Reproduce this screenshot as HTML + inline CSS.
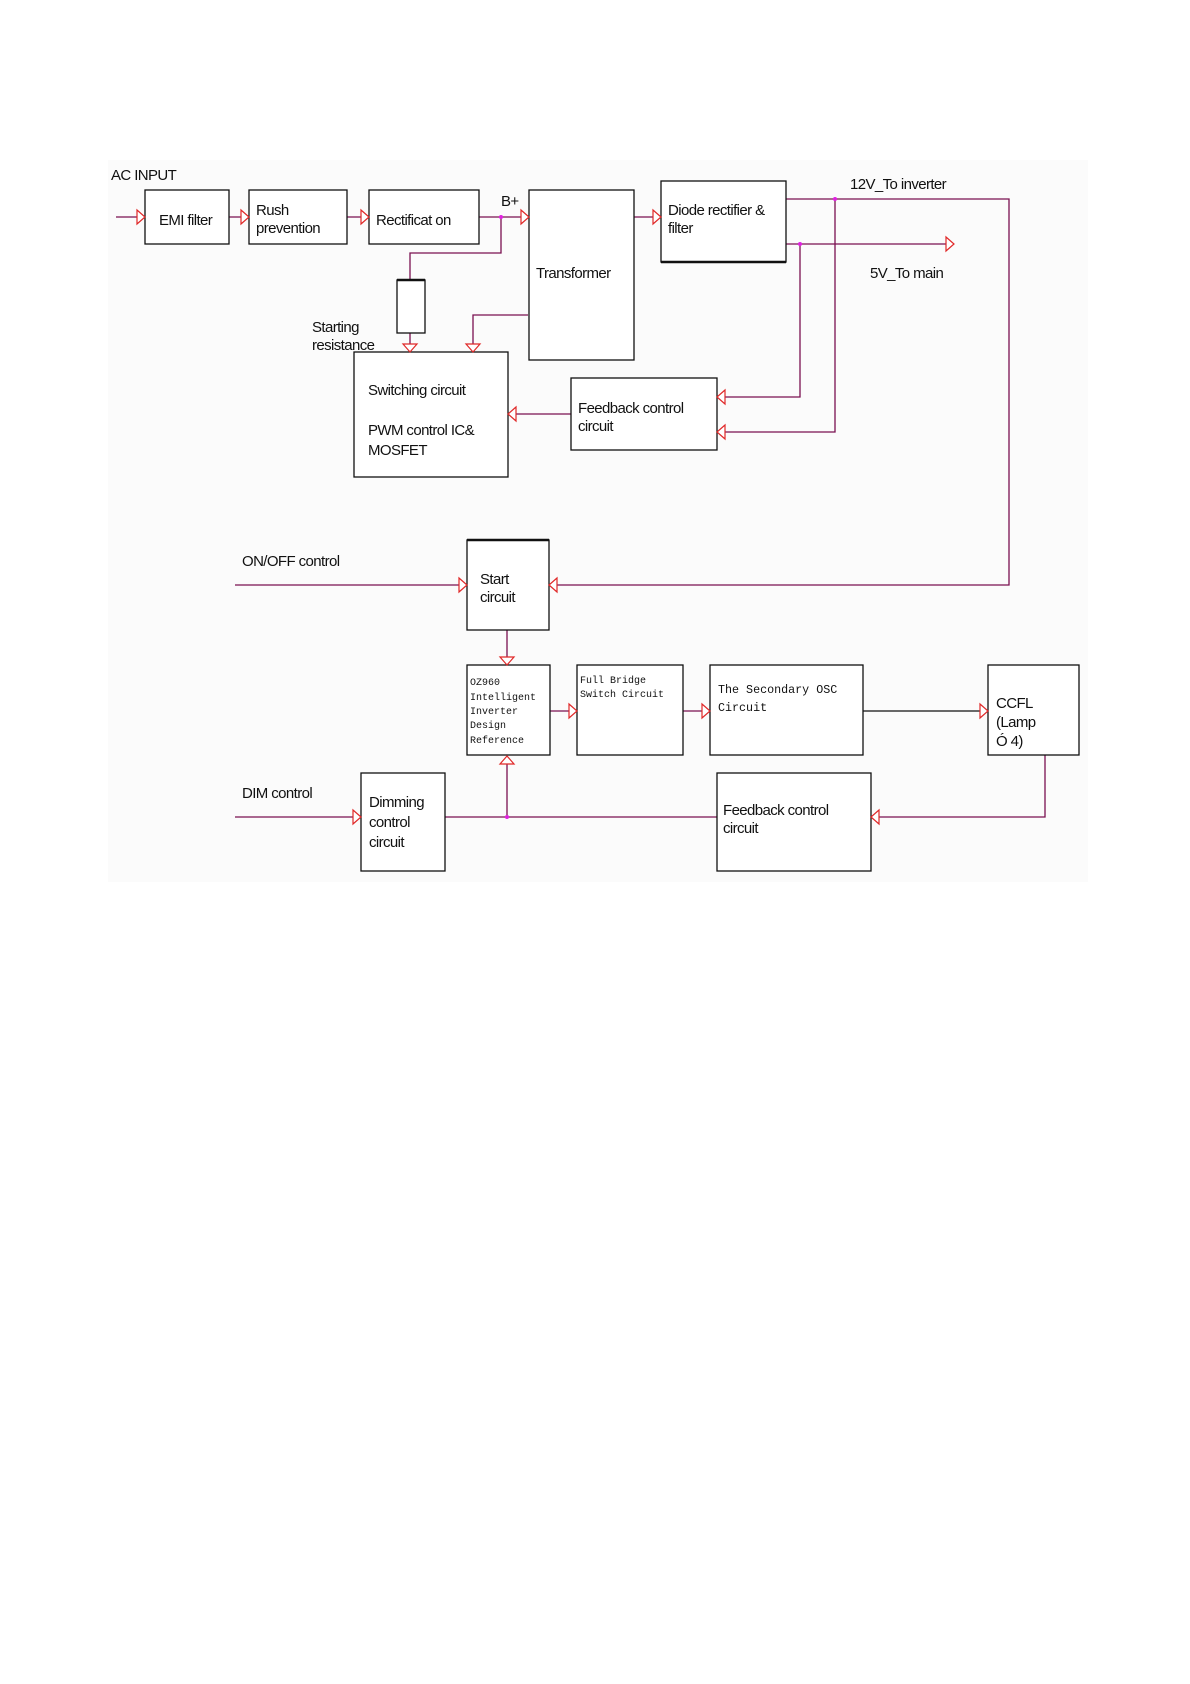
<!DOCTYPE html>
<html><head><meta charset="utf-8"><style>
html,body{margin:0;padding:0;background:#fff;}
svg{display:block;}
text{font-family:"Liberation Sans",sans-serif;font-size:15px;fill:#111;letter-spacing:-0.6px;}
.m{font-family:"Liberation Mono",monospace;font-size:10px;letter-spacing:0;}
.m2{font-family:"Liberation Mono",monospace;font-size:11.7px;letter-spacing:0;}
.b{fill:#fff;stroke:#111;stroke-width:1.3;}
.l{fill:none;stroke:#7a1050;stroke-width:1.3;}
.k{fill:none;stroke:#111;stroke-width:1.3;}
.a{fill:#fff;stroke:#e02828;stroke-width:1.2;}
.d{fill:#e020e0;}
</style></head><body>
<svg width="1190" height="1684" viewBox="0 0 1190 1684" xmlns="http://www.w3.org/2000/svg">
<rect x="108" y="160" width="980" height="722" fill="#fbfbfb"/>
<!-- top row lines -->
<polyline class="l" points="116,217 145,217"/>
<polyline class="l" points="229,217 249,217"/>
<polyline class="l" points="347,217 369,217"/>
<polyline class="l" points="479,217 529,217"/>
<polyline class="l" points="501,217 501,253 410,253 410,280"/>
<polyline class="l" points="410,333 410,352"/>
<polyline class="l" points="528,315 473,315 473,352"/>
<polyline class="l" points="634,217 661,217"/>
<polyline class="l" points="786,199 1009,199 1009,585 549,585"/>
<polyline class="l" points="786,244 954,244"/>
<polyline class="l" points="835,199 835,432 717,432"/>
<polyline class="l" points="800,244 800,397 717,397"/>
<polyline class="l" points="571,414 508,414"/>
<!-- bottom lines -->
<polyline class="l" points="235,585 467,585"/>
<polyline class="l" points="507,630 507,665"/>
<polyline class="l" points="550,711 577,711"/>
<polyline class="l" points="683,711 710,711"/>
<polyline class="k" points="863,711 988,711"/>
<polyline class="l" points="1045,755 1045,817 871,817"/>
<polyline class="l" points="235,817 361,817"/>
<polyline class="l" points="445,817 717,817"/>
<polyline class="l" points="507,817 507,756"/>
<!-- boxes -->
<rect class="b" x="145" y="190" width="84" height="54"/>
<rect class="b" x="249" y="190" width="98" height="54"/>
<rect class="b" x="369" y="190" width="110" height="54"/>
<rect class="b" x="529" y="190" width="105" height="170"/>
<rect class="b" x="661" y="181" width="125" height="81"/>
<line x1="661" y1="262" x2="786" y2="262" stroke="#111" stroke-width="2.5"/>
<rect class="b" x="397" y="280" width="28" height="53"/>
<line x1="397" y1="280" x2="425" y2="280" stroke="#111" stroke-width="2.5"/>
<rect class="b" x="354" y="352" width="154" height="125"/>
<rect class="b" x="571" y="378" width="146" height="72"/>
<rect class="b" x="467" y="540" width="82" height="90"/>
<line x1="467" y1="540" x2="549" y2="540" stroke="#111" stroke-width="2.5"/>
<rect class="b" x="467" y="665" width="83" height="90"/>
<rect class="b" x="577" y="665" width="106" height="90"/>
<rect class="b" x="710" y="665" width="153" height="90"/>
<rect class="b" x="988" y="665" width="91" height="90"/>
<rect class="b" x="717" y="773" width="154" height="98"/>
<rect class="b" x="361" y="773" width="84" height="98"/>
<!-- arrows right -->
<g class="a">
<path d="M137,210 L145,217 L137,224 Z"/>
<path d="M241,210 L249,217 L241,224 Z"/>
<path d="M361,210 L369,217 L361,224 Z"/>
<path d="M521,210 L529,217 L521,224 Z"/>
<path d="M653,210 L661,217 L653,224 Z"/>
<path d="M946,237 L954,244 L946,251 Z"/>
<path d="M459,578 L467,585 L459,592 Z"/>
<path d="M569,704 L577,711 L569,718 Z"/>
<path d="M702,704 L710,711 L702,718 Z"/>
<path d="M980,704 L988,711 L980,718 Z"/>
<path d="M353,810 L361,817 L353,824 Z"/>
<!-- left -->
<path d="M725,390 L717,397 L725,404 Z"/>
<path d="M725,425 L717,432 L725,439 Z"/>
<path d="M516,407 L508,414 L516,421 Z"/>
<path d="M557,578 L549,585 L557,592 Z"/>
<path d="M879,810 L871,817 L879,824 Z"/>
<!-- down -->
<path d="M403,344 L410,352 L417,344 Z"/>
<path d="M466,344 L473,352 L480,344 Z"/>
<path d="M500,657 L507,665 L514,657 Z"/>
<!-- up -->
<path d="M500,764 L507,756 L514,764 Z"/>
</g>
<circle class="d" cx="501" cy="217" r="2"/>
<circle class="d" cx="835" cy="199" r="2"/>
<circle class="d" cx="800" cy="244" r="2"/>
<circle class="d" cx="507" cy="817" r="2"/>
<!-- labels -->
<text x="111" y="180">AC INPUT</text>
<text x="159" y="225">EMI filter</text>
<text x="256" y="215">Rush</text>
<text x="256" y="233">prevention</text>
<text x="376" y="225">Rectificat on</text>
<text x="501" y="206">B+</text>
<text x="536" y="278">Transformer</text>
<text x="668" y="215">Diode rectifier &amp;</text>
<text x="668" y="233">filter</text>
<text x="850" y="189">12V_To inverter</text>
<text x="870" y="278">5V_To main</text>
<text x="312" y="332">Starting</text>
<text x="312" y="350">resistance</text>
<text x="368" y="395">Switching circuit</text>
<text x="368" y="435">PWM control IC&amp;</text>
<text x="368" y="455">MOSFET</text>
<text x="578" y="413">Feedback control</text>
<text x="578" y="431">circuit</text>
<text x="242" y="566">ON/OFF control</text>
<text x="480" y="584">Start</text>
<text x="480" y="602">circuit</text>
<text class="m" x="470" y="685">OZ960</text>
<text class="m" x="470" y="700">Intelligent</text>
<text class="m" x="470" y="714">Inverter</text>
<text class="m" x="470" y="728">Design</text>
<text class="m" x="470" y="743">Reference</text>
<text class="m" x="580" y="683">Full Bridge</text>
<text class="m" x="580" y="697">Switch Circuit</text>
<text class="m2" x="718" y="693">The Secondary OSC</text>
<text class="m2" x="718" y="711">Circuit</text>
<text x="996" y="708">CCFL</text>
<text x="996" y="727">(Lamp</text>
<text x="996" y="746">Ó 4)</text>
<text x="242" y="798">DIM control</text>
<text x="369" y="807">Dimming</text>
<text x="369" y="827">control</text>
<text x="369" y="847">circuit</text>
<text x="723" y="815">Feedback control</text>
<text x="723" y="833">circuit</text>
</svg>
</body></html>
